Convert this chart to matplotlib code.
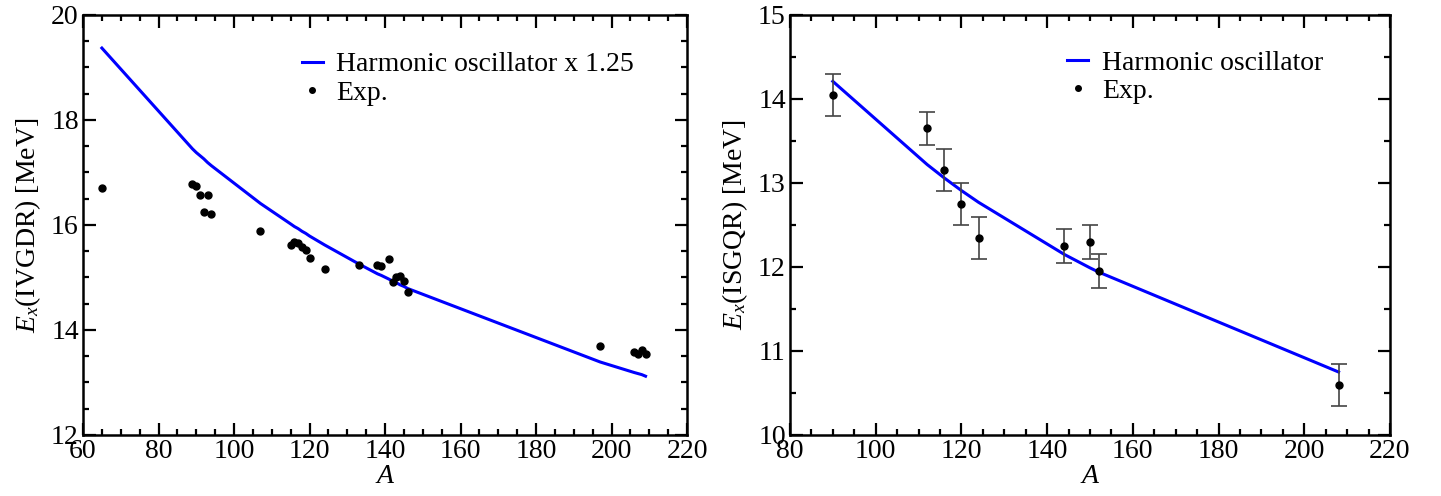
import numpy as np
import matplotlib
matplotlib.use("Agg")
import matplotlib.pyplot as plt
from matplotlib.ticker import MultipleLocator

plt.rcParams['font.family'] = 'Liberation Serif'
plt.rcParams['mathtext.fontset'] = 'custom'
plt.rcParams['mathtext.rm'] = 'Liberation Serif'
plt.rcParams['mathtext.it'] = 'Liberation Serif:italic'

# IVGDR: harmonic oscillator (scaled by 1.25) vs. experiment
gdr_model_A = [65, 89, 90, 92, 93, 94, 107, 115, 116, 117, 118, 119, 120, 124,
               133, 138, 139, 141, 142, 143, 144, 145, 146, 197, 206, 207, 208, 209]
gdr_model_E = [19.37, 17.45, 17.38, 17.26, 17.19, 17.13, 16.41, 16.02, 15.97, 15.93,
               15.88, 15.84, 15.79, 15.62, 15.26, 15.07, 15.04, 14.97, 14.93, 14.90,
               14.86, 14.83, 14.79, 13.39, 13.19, 13.17, 13.15, 13.12]
gdr_exp_A = [65, 89, 90, 91, 93, 92, 94, 107, 115, 116, 117, 118, 119, 120, 124,
             133, 138, 139, 141, 142, 143, 144, 145, 146, 197, 206, 207, 208, 209]
gdr_exp_E = [16.70, 16.78, 16.74, 16.57, 16.57, 16.25, 16.21, 15.89, 15.62, 15.68,
             15.66, 15.59, 15.52, 15.38, 15.17, 15.24, 15.24, 15.22, 15.35, 14.92,
             15.00, 15.03, 14.94, 14.72, 13.70, 13.58, 13.54, 13.62, 13.54]

# ISGQR: harmonic oscillator vs. experiment with errors
gqr_model_A = [90, 112, 116, 120, 124, 144, 150, 152, 208]
gqr_model_E = [14.21, 13.22, 13.06, 12.91, 12.77, 12.15, 11.99, 11.94, 10.75]
gqr_exp_A = [90, 112, 116, 120, 124, 144, 150, 152, 208]
gqr_exp_E = [14.05, 13.65, 13.15, 12.75, 12.35, 12.25, 12.30, 11.95, 10.60]
gqr_exp_err = [0.25, 0.20, 0.25, 0.25, 0.25, 0.20, 0.20, 0.20, 0.25]

fig = plt.figure(figsize=(14.41, 4.96), dpi=100)
ax1 = fig.add_axes([0.0576, 0.123, 0.4192, 0.8468])
ax2 = fig.add_axes([0.5482, 0.123, 0.4164, 0.8468])

fs = 20
leg_kw = dict(loc='upper left', frameon=False, fontsize=fs, handlelength=0.75,
              handletextpad=0.5, labelspacing=0.1, numpoints=1,
              markerscale=0.8, borderaxespad=0, borderpad=0)
for ax in (ax1, ax2):
    for sp in ax.spines.values():
        sp.set_linewidth(1.8)
    ax.tick_params(which='both', direction='in', top=True, right=True,
                   labelsize=fs, pad=3)
    ax.tick_params(which='major', length=9, width=1.6)
    ax.tick_params(which='minor', length=4.5, width=1.6)
    ax.xaxis.set_major_locator(MultipleLocator(20))
    ax.xaxis.set_minor_locator(MultipleLocator(5))
    ax.set_xlabel(r'$A$', fontsize=fs, labelpad=0)

ax1.plot(gdr_model_A, gdr_model_E, color='#0000ff', lw=2.2,
         label='Harmonic oscillator x 1.25')
ax1.plot(gdr_exp_A, gdr_exp_E, 'o', color='black', ms=5, label='Exp.')
ax1.set_xlim(60, 220)
ax1.set_ylim(12, 20)
ax1.yaxis.set_major_locator(MultipleLocator(2))
ax1.yaxis.set_minor_locator(MultipleLocator(0.5))
ax1.set_ylabel(r'$E_x$(IVGDR) [MeV]', fontsize=fs, labelpad=6)
ax1.legend(bbox_to_anchor=(0.362, 0.912), **leg_kw)

ax2.plot(gqr_model_A, gqr_model_E, color='#0000ff', lw=2.2,
         label='Harmonic oscillator')
ax2.errorbar(gqr_exp_A, gqr_exp_E, yerr=gqr_exp_err, fmt='none',
             ecolor='#444444', elinewidth=1.2, capsize=6, capthick=1.2)
ax2.plot(gqr_exp_A, gqr_exp_E, 'o', color='black', ms=5, label='Exp.')
ax2.set_xlim(80, 220)
ax2.set_ylim(10, 15)
ax2.yaxis.set_major_locator(MultipleLocator(1))
ax2.yaxis.set_minor_locator(MultipleLocator(0.5))
ax2.set_ylabel(r'$E_x$(ISGQR) [MeV]', fontsize=fs, labelpad=6)
ax2.legend(bbox_to_anchor=(0.462, 0.916), **leg_kw)

fig.savefig('out.png', dpi=100)
